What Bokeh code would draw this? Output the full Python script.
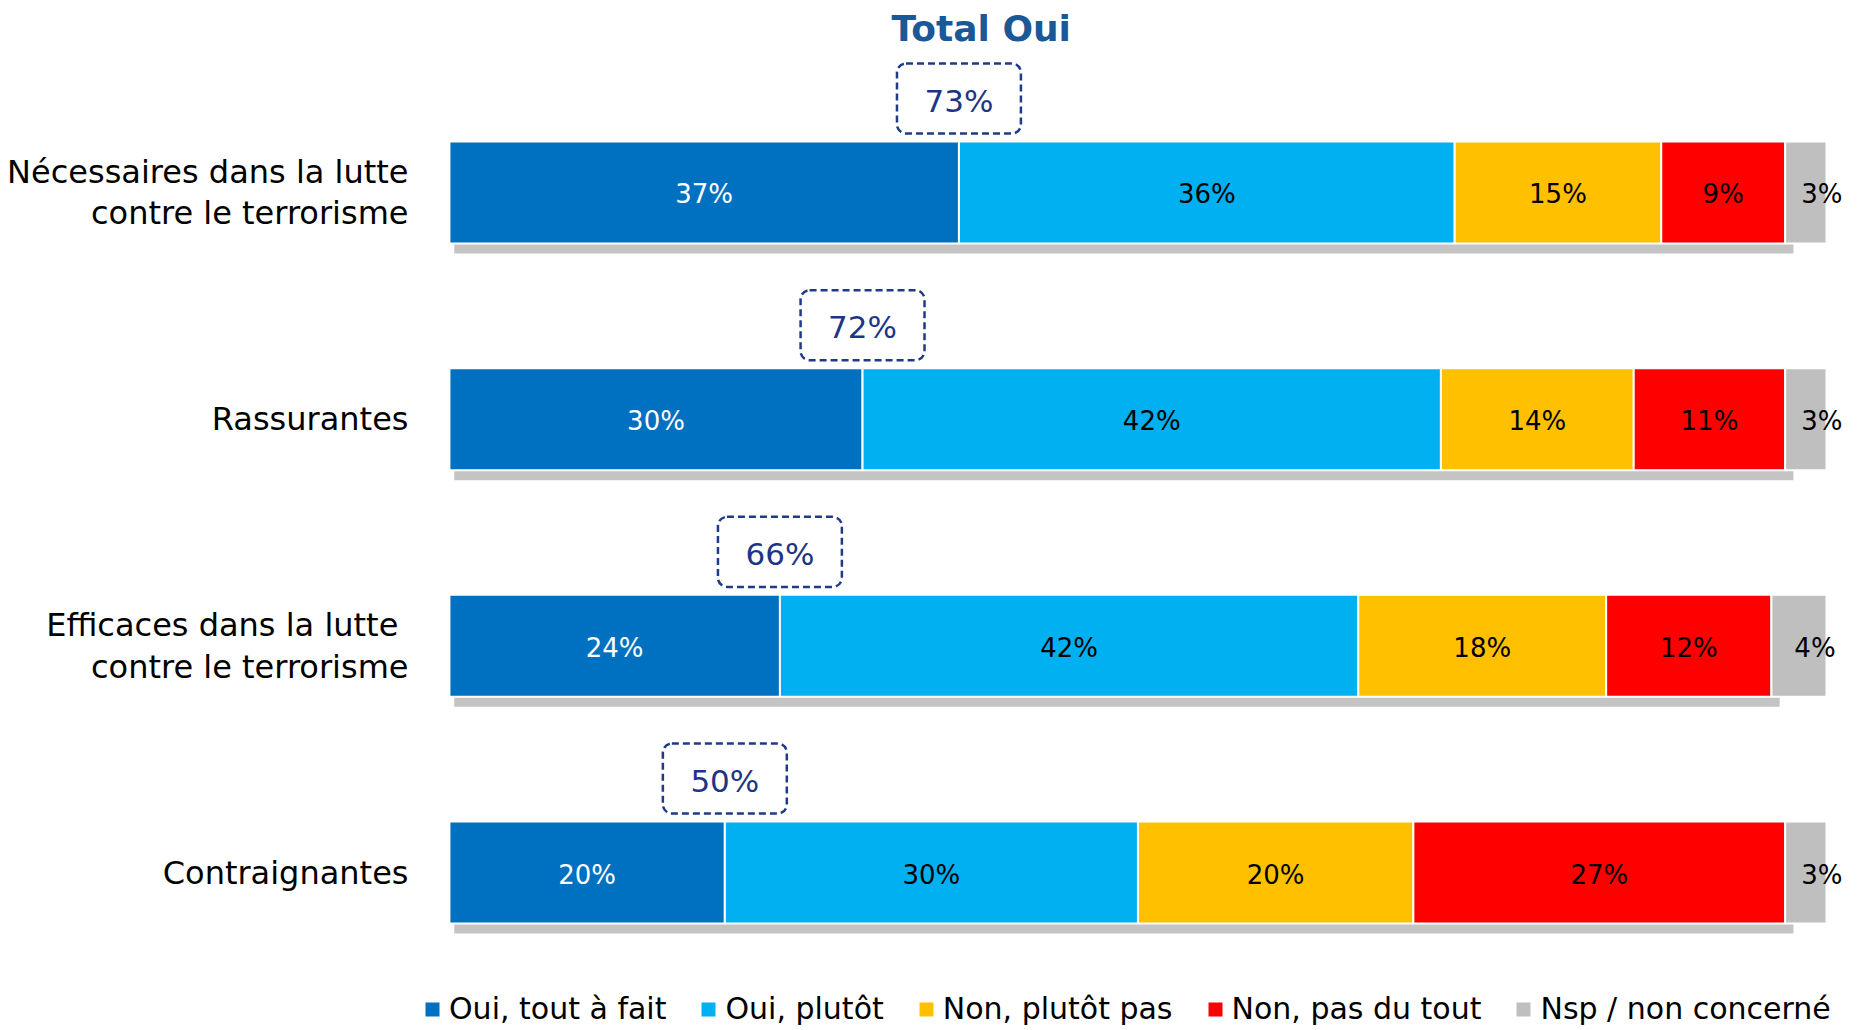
import numpy as np
from bokeh.plotting import figure
from bokeh.models import (Range1d, LinearAxis, FixedTicker, Legend, LegendItem,
                          ColumnDataSource)
from bokeh.core.properties import value
from bokeh.embed import file_html
from bokeh.resources import INLINE

# ---- data ----
categories = ["Nécessaires dans la lutte\ncontre le terrorisme",
              "Rassurantes",
              "Efficaces  dans la lutte\ncontre le terrorisme",
              "Contraignantes"]
series_names = ["Oui, tout à fait", "Oui, plutôt", "Non, plutôt pas",
                "Non, pas du tout", "Nsp / non concerné"]
oui_tout = [37, 30, 24, 20]
oui_plutot = [36, 42, 42, 30]
non_plutot = [15, 14, 18, 20]
non_pas = [9, 11, 12, 27]
nsp = [3, 3, 4, 3]
total_oui = [73, 72, 66, 50]

colors = ["#0070C0", "#00B0F0", "#FFC000", "#FF0000", "#BFBFBF"]
label_colors = ["white", "black", "black", "black", "black"]
FONT = "DejaVu Sans"

series = [oui_tout, oui_plutot, non_plutot, non_pas, nsp]
keys = ["s0", "s1", "s2", "s3", "s4"]
n = len(categories)
ypos = np.arange(n, 0, -1).astype(float)  # top row highest

data = {"y": ypos}
for k, s in zip(keys, series):
    data[k] = s
src = ColumnDataSource(data)

p = figure(frame_width=1429, frame_height=977,
           min_border_left=420, min_border_right=14,
           min_border_top=53, min_border_bottom=0,
           x_range=Range1d(-2.1, 101.67), y_range=Range1d(0.303, 4.6131),
           x_axis_location=None, y_axis_location=None,
           output_backend="svg", toolbar_location=None,
           title="Total  Oui")
p.grid.visible = False
p.outline_line_color = None
p.background_fill_color = "white"

p.title.align = "left"
p.title.offset = 471
p.title.vertical_align = "top"
p.title.text_font = FONT
p.title.text_font_size = "36px"
p.title.text_font_style = "bold"
p.title.text_color = "#1A5897"
p.title.standoff = 6

BAR_H = 0.45

# shadow under bars
sum4 = np.array(oui_tout) + np.array(oui_plutot) + np.array(non_plutot) + np.array(non_pas)
p.hbar(y=ypos - BAR_H / 2 - 0.022, left=0.35, right=sum4 + 0.6, height=0.044,
       fill_color="#C4C4C4", line_color=None)

# stacked bars
renderers = p.hbar_stack(keys, y="y", height=BAR_H, color=colors,
                         line_color="white", line_width=2, source=src)

# segment labels
left = np.zeros(n)
for i, s in enumerate(series):
    s = np.array(s, dtype=float)
    centers = left + s / 2
    left = left + s
    p.text(x=centers, y=ypos, text=[f"{int(v)}%" for v in s],
           text_align="center", text_baseline="middle",
           text_font=value(FONT), text_font_size="26px",
           text_color=label_colors[i], x_offset=16 if i == 4 else 0, y_offset=2)

# Total Oui boxes
box_w = 9.0
box_bottom = ypos + BAR_H / 2 + 0.035
box_top = box_bottom + 0.309
xo = np.array(oui_tout, dtype=float)
p.quad(left=xo - box_w / 2, right=xo + box_w / 2, bottom=box_bottom, top=box_top,
       fill_color="white", line_color="#1F3A87", line_dash="7 4", line_width=2.5,
       border_radius=9)
p.text(x=xo, y=(box_bottom + box_top) / 2, text=[f"{v}%" for v in total_oui],
       text_align="center", text_baseline="middle", text_font=value(FONT),
       text_font_size="31px", text_color="#1C3585", y_offset=2)

# category axis
yaxis = LinearAxis(ticker=FixedTicker(ticks=list(ypos)),
                   major_label_overrides={int(y): c for y, c in zip(ypos, categories)})
yaxis.axis_line_color = None
yaxis.major_tick_line_color = None
yaxis.minor_tick_line_color = None
yaxis.major_tick_in = 0
yaxis.major_tick_out = 0
yaxis.major_label_standoff = 12
yaxis.major_label_text_font = FONT
yaxis.major_label_text_font_size = "32px"
yaxis.major_label_text_color = "black"
yaxis.major_label_text_line_height = 1.1
p.add_layout(yaxis, "left")

# legend (inside the frame, bottom-left)
items = [LegendItem(label=name, renderers=[r]) for name, r in zip(series_names, renderers)]
legend = Legend(items=items, orientation="horizontal", location=(0, 2),
                glyph_width=20, glyph_height=20, label_standoff=7, spacing=32,
                padding=2, margin=0, label_text_font=FONT, label_text_font_size="30px",
                label_text_color="black",
                border_line_alpha=0, background_fill_alpha=0)
p.add_layout(legend)

open("out.html", "w").write(file_html(p, INLINE))
